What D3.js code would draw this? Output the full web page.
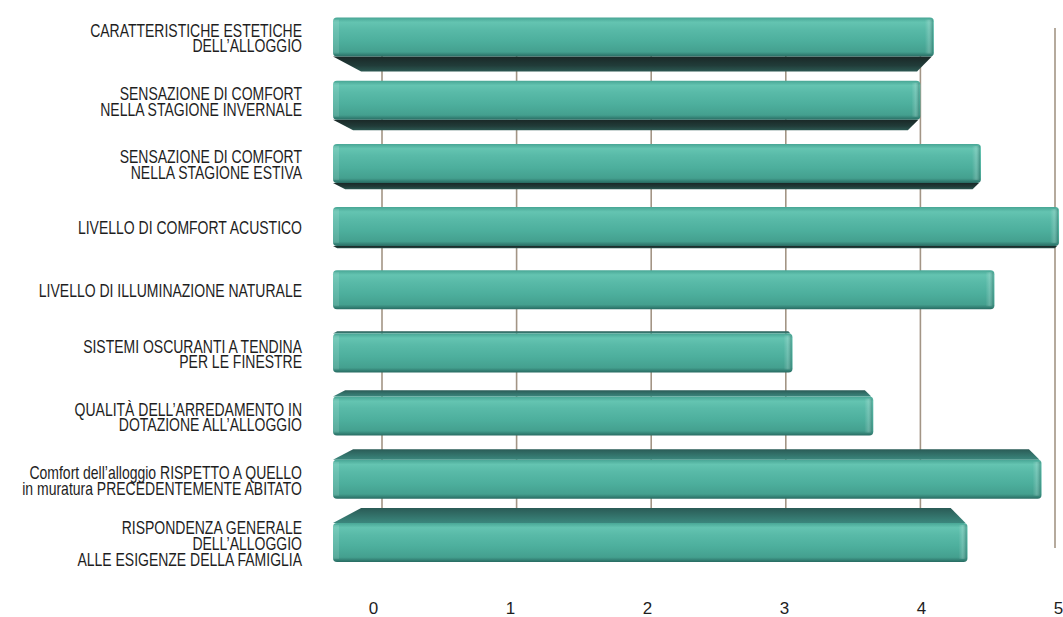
<!DOCTYPE html>
<html>
<head>
<meta charset="utf-8">
<script src="https://cdn.jsdelivr.net/npm/d3@7"></script>
<style>
  body { margin: 0; background: #fff; }
  svg { display: block; }
  text { font-family: 'Liberation Sans', Arial, sans-serif; fill: #1e1e1e; }
</style>
</head>
<body>
<svg id="chart" width="1063" height="617"></svg>
<script>
// chart data
const categories = [
  'CARATTERISTICHE ESTETICHE\nDELL’ALLOGGIO',
  'SENSAZIONE DI COMFORT\nNELLA STAGIONE INVERNALE',
  'SENSAZIONE DI COMFORT\nNELLA STAGIONE ESTIVA',
  'LIVELLO DI COMFORT ACUSTICO',
  'LIVELLO DI ILLUMINAZIONE NATURALE',
  'SISTEMI OSCURANTI A TENDINA\nPER LE FINESTRE',
  'QUALITÀ DELL’ARREDAMENTO IN\nDOTAZIONE ALL’ALLOGGIO',
  'Comfort dell’alloggio RISPETTO A QUELLO\nin muratura PRECEDENTEMENTE ABITATO',
  'RISPONDENZA GENERALE\nDELL’ALLOGGIO\nALLE ESIGENZE DELLA FAMIGLIA'
];
const values = [4.1, 4.0, 4.45, 5.03, 4.55, 3.05, 3.65, 4.9, 4.35];
const tickValues = [0, 1, 2, 3, 4, 5];

const width = 1063, height = 617;
const barLeft = 333;      // front face of the bars starts here
const labelRight = 302;
const faceH = 39;
const lineH = 15.8;
const narrow = 0.8;       // horizontal squeeze to fake a condensed face

const svg = d3.select('#chart');
const defs = svg.append('defs');

const front = defs.append('linearGradient').attr('id', 'front')
  .attr('x1', 0).attr('y1', 0).attr('x2', 0).attr('y2', 1);
[[0, '#48a695'], [0.12, '#64c4b1'], [0.3, '#59baa8'], [0.6, '#4daf9d'], [0.88, '#44a08f'], [1, '#286b62']]
  .forEach(s => front.append('stop').attr('offset', s[0]).attr('stop-color', s[1]));

const under = defs.append('linearGradient').attr('id', 'under')
  .attr('x1', 0).attr('y1', 0).attr('x2', 0).attr('y2', 1);
[[0, '#1a2827'], [0.6, '#213c39'], [1, '#2c5852']]
  .forEach(s => under.append('stop').attr('offset', s[0]).attr('stop-color', s[1]));

const topFace = defs.append('linearGradient').attr('id', 'topFace')
  .attr('x1', 0).attr('y1', 0).attr('x2', 0).attr('y2', 1);
[[0, '#2a5b56'], [1, '#3b877d']]
  .forEach(s => topFace.append('stop').attr('offset', s[0]).attr('stop-color', s[1]));

const endCap = defs.append('linearGradient').attr('id', 'endCap')
  .attr('x1', 0).attr('y1', 0).attr('x2', 1).attr('y2', 0);
[[0, '#ffffff', 0], [0.5, '#ffffff', 0.18], [1, '#1f4f49', 0.35]]
  .forEach(s => endCap.append('stop').attr('offset', s[0]).attr('stop-color', s[1]).attr('stop-opacity', s[2]));

// scales: gridlines on the back wall, labels in front
const xGrid = d3.scaleLinear().domain([0, 5]).range([382, 1055]);
const xLabel = d3.scaleLinear().domain([0, 5]).range([373, 1058]);
const y = d3.scaleBand().domain(categories).range([5.5, 574]).padding(0);

// gridlines
svg.append('g')
  .selectAll('line')
  .data(tickValues)
  .join('line')
  .attr('x1', d => xGrid(d)).attr('x2', d => xGrid(d))
  .attr('y1', 28).attr('y2', 548)
  .attr('stroke', '#a39585')
  .attr('stroke-width', 1.6);

// bars
const mid = (categories.length - 1) / 2;
const depthOf = i => {
  const k = mid - i;
  return Math.sign(k) * Math.max(0, Math.abs(k) * 4.2 - 2);
};
const bars = svg.append('g')
  .selectAll('g')
  .data(categories.map((c, i) => ({ c, v: values[i], i })))
  .join('g');

bars.each(function (d) {
  const g = d3.select(this);
  const cy = y(d.c) + y.bandwidth() / 2;
  const yt = cy - faceH / 2, yb = cy + faceH / 2;
  const x0 = barLeft, x1 = xGrid(d.v);
  const dep = depthOf(d.i);
  const a = Math.abs(dep);
  if (a > 0.5) {
    const edgeY = dep > 0 ? yb : yt;
    g.append('path')
      .attr('d', d3.line()([
        [x0, edgeY], [x1 - 2, edgeY], [x1 - 2 - a, edgeY + dep], [x0 + 1.9 * a, edgeY + dep]
      ]) + 'Z')
      .attr('fill', dep > 0 ? 'url(#under)' : 'url(#topFace)');
  }
  g.append('rect')
    .attr('x', x0).attr('y', yt)
    .attr('width', x1 - x0).attr('height', faceH)
    .attr('rx', 4)
    .attr('fill', 'url(#front)');
  g.append('rect')
    .attr('x', x0).attr('y', yt + 2)
    .attr('width', 6).attr('height', faceH - 5)
    .attr('fill', '#ffffff').attr('opacity', 0.12);
  g.append('rect')
    .attr('x', x1 - 9).attr('y', yt + 2)
    .attr('width', 8).attr('height', faceH - 5)
    .attr('fill', 'url(#endCap)');
});

// category labels
svg.append('g')
  .selectAll('text')
  .data(categories)
  .join('text')
  .attr('text-anchor', 'end')
  .attr('font-size', 17.5)
  .attr('transform', `translate(${labelRight},0) scale(${narrow},1)`)
  .each(function (d) {
    const lines = d.split('\n');
    const cy = y(d) + y.bandwidth() / 2;
    const first = cy - (lines.length - 1) / 2 * lineH + 7.5;
    d3.select(this).selectAll('tspan')
      .data(lines)
      .join('tspan')
      .attr('x', 0)
      .attr('y', (l, k) => first + k * lineH)
      .text(l => l);
  });

// x axis
const axis = svg.append('g')
  .attr('transform', 'translate(0,602)')
  .call(d3.axisBottom(xLabel).tickValues(tickValues).tickSize(0).tickPadding(0).tickFormat(d3.format('d')));
axis.select('.domain').remove();
axis.selectAll('.tick text')
  .attr('font-size', 17)
  .attr('font-family', "'Liberation Sans', Arial, sans-serif")
  .attr('fill', '#1e1e1e');
</script>
</body>
</html>
